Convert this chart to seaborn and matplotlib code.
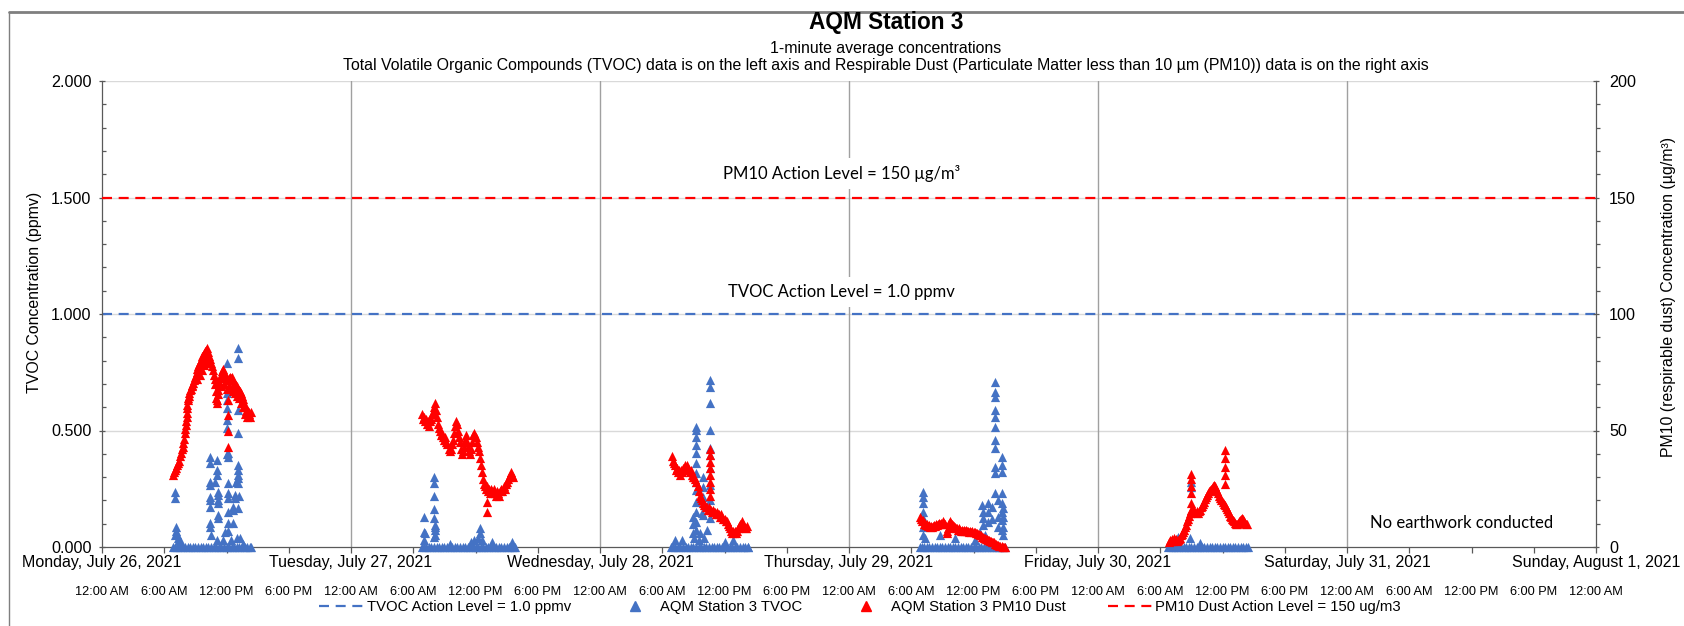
import numpy as np
import pandas as pd
import matplotlib
matplotlib.use("Agg")
import matplotlib.pyplot as plt
import seaborn as sns
from matplotlib.lines import Line2D
from matplotlib.ticker import MultipleLocator, FuncFormatter

# ------------------------------------------------------------------ data
day_labels = ["Monday, July 26, 2021", "Tuesday, July 27, 2021", "Wednesday, July 28, 2021",
              "Thursday, July 29, 2021", "Friday, July 30, 2021", "Saturday, July 31, 2021",
              "Sunday, August 1, 2021"]
time_labels = ["12:00 AM", "6:00 AM", "12:00 PM", "6:00 PM"]

tvoc_action = 1.0      # ppmv
pm10_action = 150      # ug/m3

# TVOC readings equal to zero (hour of day)
tvoc_zero_mon = [6.85, 7.0, 7.25, 7.5, 7.75, 8.0, 8.25, 8.5, 8.75, 9.0, 9.25, 9.5, 9.75, 10.0, 10.25,
                 10.5, 10.75, 11.0, 11.25, 11.5, 11.75, 12.0, 12.25, 12.5, 12.75, 13.0, 13.25, 13.5,
                 13.75, 14.0, 14.25, 14.35]
tvoc_zero_tue = [6.8, 7.0, 7.25, 7.5, 7.75, 8.0, 8.25, 8.5, 8.75, 9.0, 9.25, 9.5, 9.75, 10.0, 10.25,
                 10.5, 10.75, 11.0, 11.25, 11.5, 11.75, 12.0, 12.25, 12.5, 12.75, 13.0, 13.25, 13.5,
                 13.75, 14.0, 14.25, 14.5, 14.75, 15.0, 15.25, 15.5, 15.75, 15.8]
tvoc_zero_wed = [6.8, 7.0, 7.25, 7.5, 7.75, 8.0, 8.25, 8.5, 8.75, 9.0, 9.25, 9.5, 9.75, 10.0, 10.25,
                 10.5, 10.75, 11.0, 11.25, 11.5, 11.75, 12.0, 12.25, 12.5, 12.75, 13.0, 13.25, 13.5,
                 13.75, 14.0, 14.25, 14.3]
tvoc_zero_thu = [6.8, 7.0, 7.25, 7.5, 7.75, 8.0, 8.25, 8.5, 8.75, 9.0, 9.25, 9.5, 9.75, 10.0, 10.25,
                 10.5, 10.75, 11.0, 11.25, 11.5, 11.75, 12.0, 12.25, 12.5, 12.75, 13.0, 13.25, 13.5,
                 13.75, 14.0, 14.25, 14.5, 14.75, 15.0]
tvoc_zero_fri = [6.75, 7.0, 7.25, 7.5, 7.75, 8.0, 8.25, 8.5, 8.75, 9.0, 9.25, 9.5, 9.75, 10.0, 10.25,
                 10.5, 10.75, 11.0, 11.25, 11.5, 11.75, 12.0, 12.25, 12.5, 12.75, 13.0, 13.25, 13.5,
                 13.75, 14.0, 14.25, 14.5]

# TVOC non-zero readings (hour of day, ppmv)
tvoc_mon = [(7.0, 0.05), (7.04, 0.237), (7.04, 0.209), (7.1, 0.086), (7.15, 0.07), (7.2, 0.055),
            (7.3, 0.04), (7.45, 0.03), (7.6, 0.02),
            (10.41, 0.388), (10.41, 0.359), (10.41, 0.28), (10.41, 0.266), (10.41, 0.216),
            (10.41, 0.202), (10.41, 0.173), (10.41, 0.102), (10.41, 0.087), (10.55, 0.052),
            (10.9, 0.28), (11.05, 0.373), (11.05, 0.33), (11.05, 0.309), (11.05, 0.03),
            (11.2, 0.237), (11.2, 0.223), (11.2, 0.202), (11.2, 0.188), (11.2, 0.137), (11.2, 0.123),
            (11.7, 0.03), (11.85, 0.066),
            (12.01, 0.788), (12.01, 0.66), (12.01, 0.63), (12.01, 0.595), (12.01, 0.545),
            (12.01, 0.51), (12.01, 0.40), (12.18, 0.402), (12.18, 0.388), (12.18, 0.273),
            (12.18, 0.23), (12.18, 0.209), (12.18, 0.15), (12.18, 0.102), (12.18, 0.07),
            (12.4, 0.03), (12.66, 0.173), (12.66, 0.159), (12.66, 0.102), (12.82, 0.223),
            (12.82, 0.209), (12.9, 0.28), (12.98, 0.038),
            (13.14, 0.853), (13.14, 0.81), (13.14, 0.59), (13.14, 0.488), (13.14, 0.352),
            (13.14, 0.33), (13.14, 0.309), (13.14, 0.295), (13.14, 0.273), (13.14, 0.166),
            (13.25, 0.22), (13.3, 0.038), (13.62, 0.015)]
tvoc_tue = [(7.04, 0.13), (7.04, 0.066), (7.04, 0.03), (7.1, 0.06), (8.0, 0.302), (8.0, 0.273),
            (8.0, 0.219), (8.0, 0.163), (8.0, 0.123), (8.05, 0.094), (8.05, 0.073), (8.0, 0.044),
            (8.1, 0.087), (8.1, 0.052), (9.54, 0.015), (11.6, 0.02), (11.9, 0.03), (12.2, 0.04),
            (12.43, 0.08), (12.43, 0.059), (12.6, 0.03), (13.55, 0.02), (15.5, 0.02)]
tvoc_wed = [(7.23, 0.03), (7.87, 0.03), (9.0, 0.13), (9.0, 0.10), (9.0, 0.06), (9.1, 0.04),
            (9.25, 0.516), (9.25, 0.502), (9.25, 0.473), (9.25, 0.438), (9.25, 0.402), (9.25, 0.359),
            (9.25, 0.316), (9.25, 0.28), (9.25, 0.245), (9.25, 0.195), (9.25, 0.152), (9.25, 0.109),
            (9.25, 0.073), (9.5, 0.03), (9.64, 0.06), (9.8, 0.145), (9.96, 0.302), (9.96, 0.259),
            (9.96, 0.216), (9.96, 0.137), (10.0, 0.04), (10.28, 0.073),
            (10.6, 0.717), (10.6, 0.688), (10.6, 0.617), (10.6, 0.502), (10.6, 0.424), (10.6, 0.395),
            (10.6, 0.338), (10.6, 0.266), (10.6, 0.202), (10.6, 0.123), (12.05, 0.02), (12.85, 0.03)]
tvoc_thu = [(7.1, 0.237), (7.1, 0.216), (7.1, 0.187), (7.1, 0.152), (7.1, 0.123), (7.1, 0.087),
            (7.1, 0.05), (7.33, 0.04), (8.77, 0.05), (10.21, 0.04), (12.14, 0.03), (12.6, 0.06),
            (12.78, 0.18), (12.94, 0.152), (12.94, 0.123), (12.94, 0.094), (13.1, 0.05),
            (13.42, 0.187), (13.42, 0.152), (13.42, 0.109), (13.8, 0.17), (13.8, 0.12),
            (14.07, 0.71), (14.07, 0.667), (14.07, 0.645), (14.07, 0.588), (14.07, 0.559),
            (14.07, 0.516), (14.07, 0.459), (14.07, 0.424), (14.07, 0.345), (14.07, 0.316),
            (14.07, 0.23), (14.39, 0.202), (14.39, 0.13), (14.39, 0.087),
            (14.71, 0.388), (14.71, 0.352), (14.71, 0.323), (14.71, 0.23), (14.71, 0.187),
            (14.71, 0.152), (14.71, 0.115), (14.71, 0.073),
            (14.87, 0.166), (14.87, 0.13), (14.87, 0.087), (14.87, 0.05)]
tvoc_fri = [(7.74, 0.044), (8.87, 0.037), (8.93, 0.28), (8.93, 0.259), (9.83, 0.016)]

# PM10 readings (hour of day, ug/m3)
pm10_mon = [(6.8, 31), (6.9, 32), (7.0, 33), (7.1, 34), (7.2, 35), (7.3, 36), (7.4, 37), (7.52, 39),
            (7.6, 40.5), (7.7, 42), (7.77, 43), (7.84, 44.5), (7.92, 46.5), (8.0, 49), (8.04, 50.5),
            (8.08, 52.5), (8.12, 54), (8.16, 56), (8.19, 57.5), (8.21, 59.5), (8.24, 61), (8.26, 63),
            (8.3, 64), (8.37, 65), (8.42, 66), (8.48, 67.4), (8.56, 68), (8.64, 69), (8.72, 69.5),
            (8.8, 70.3), (8.88, 71.5), (8.96, 73), (9.04, 74), (9.12, 75.3), (9.2, 76.2), (9.3, 77.5),
            (9.38, 78.5), (9.45, 79.6), (9.52, 80.2), (9.6, 81), (9.68, 81.8), (9.77, 82.5),
            (9.85, 83.2), (9.93, 84), (10.01, 84.6), (10.09, 85.3),
            (9.2, 72), (9.4, 74), (9.6, 76), (9.8, 78), (10.0, 79), (10.2, 80),
            (10.2, 83.5), (10.3, 82), (10.4, 80.5), (10.5, 79), (10.6, 77.5), (10.7, 76), (10.8, 74),
            (10.85, 72), (10.9, 70), (10.95, 67), (11.0, 64), (11.05, 62), (11.1, 63), (11.15, 65.5),
            (11.2, 67.5), (11.25, 69.5), (11.3, 71), (11.4, 72.5), (11.5, 74), (11.6, 75.5),
            (11.69, 76.6), (11.8, 75), (11.9, 73.5), (12.0, 72.5), (12.1, 71.5), (12.2, 72.5),
            (12.3, 73), (12.4, 72.5), (12.5, 73), (12.6, 71.5), (12.7, 70.5), (12.8, 70), (12.9, 69.5),
            (13.0, 69), (13.1, 68), (13.2, 67.5), (13.3, 67), (13.4, 66), (13.5, 65), (13.6, 63.5),
            (13.7, 62), (13.8, 60), (13.9, 58.5), (14.0, 58), (14.1, 58.5), (14.2, 58), (14.33, 58),
            (11.5, 69), (11.8, 70), (12.0, 68), (12.2, 69), (12.4, 68), (12.6, 67), (12.8, 66),
            (13.0, 65), (13.2, 64), (13.4, 62), (13.6, 60), (13.8, 57), (14.0, 56), (14.2, 57),
            (14.3, 56), (12.11, 63), (12.11, 56.6), (12.11, 50), (12.11, 43)]
pm10_tue = [(6.8, 57), (6.9, 55), (7.0, 56), (7.1, 54), (7.2, 55), (7.3, 53), (7.4, 54), (7.5, 52),
            (7.6, 54), (7.7, 55), (7.8, 57), (7.9, 58), (8.0, 60), (8.1, 62), (8.2, 59), (8.3, 56),
            (8.4, 53), (8.5, 51), (8.6, 50), (8.7, 48), (8.8, 49), (8.9, 47), (9.0, 46), (9.1, 47),
            (9.2, 45), (9.3, 44), (9.4, 42), (9.5, 41), (9.6, 42), (9.7, 44), (9.8, 46), (9.9, 49),
            (10.0, 52), (10.1, 54), (10.2, 53), (10.3, 50), (10.4, 47), (10.5, 45), (10.6, 42),
            (10.7, 40), (10.8, 41), (10.9, 43), (11.0, 46), (11.1, 48), (11.2, 45), (11.3, 43),
            (11.4, 41), (11.5, 40), (11.6, 42), (11.7, 45), (11.8, 48), (11.9, 49), (12.0, 47),
            (12.1, 45), (12.2, 43), (12.3, 41), (12.4, 38), (12.5, 35), (12.6, 32), (12.7, 29),
            (12.8, 27), (12.9, 26), (13.0, 25), (13.1, 26), (13.2, 24), (13.3, 25), (13.4, 23),
            (13.5, 25), (13.6, 24), (13.7, 23), (13.8, 25), (13.9, 23), (14.0, 22), (14.1, 24),
            (14.2, 23), (14.3, 22), (14.4, 24), (14.5, 25), (14.6, 24), (14.7, 26), (14.8, 25),
            (14.9, 27), (15.0, 28), (15.1, 29), (15.2, 30), (15.3, 31), (15.4, 32), (15.5, 31),
            (15.6, 30), (13.14, 19.4), (13.14, 15.2)]
pm10_wed = [(6.9, 39), (7.0, 37), (7.1, 36), (7.2, 35), (7.3, 33), (7.4, 34), (7.5, 32), (7.6, 33),
            (7.7, 31), (7.8, 33), (7.9, 32), (8.0, 34), (8.1, 33), (8.2, 35), (8.3, 34), (8.4, 35),
            (8.5, 34), (8.6, 33), (8.7, 32), (8.8, 33), (8.9, 31), (9.0, 30), (9.1, 30), (9.2, 29),
            (9.3, 28), (9.4, 26), (9.5, 24), (9.6, 22), (9.7, 21), (9.8, 20), (9.9, 19), (10.0, 18),
            (10.1, 18), (10.2, 17), (10.3, 17), (10.4, 16), (10.5, 17), (10.6, 16), (10.7, 16),
            (10.8, 15), (10.9, 16), (11.0, 15), (11.1, 15), (11.2, 14), (11.3, 15), (11.4, 14),
            (11.5, 14), (11.6, 13), (11.7, 14), (11.8, 13), (11.9, 12), (12.0, 12), (12.1, 11),
            (12.2, 11), (12.3, 10), (12.4, 9), (12.5, 8), (12.6, 7), (12.7, 6), (12.8, 7), (12.9, 6),
            (13.0, 7), (13.1, 6), (13.2, 7), (13.3, 8), (13.4, 9), (13.5, 10), (13.6, 10), (13.7, 11),
            (13.8, 10), (13.9, 9), (14.0, 8), (14.1, 8), (14.2, 9),
            (10.6, 42), (10.6, 39.5), (10.6, 36.5), (10.6, 34), (10.6, 31), (10.6, 28), (10.6, 25),
            (10.6, 22)]
pm10_thu = [(6.8, 13), (6.9, 12), (7.0, 11), (7.1, 11.5), (7.2, 10), (7.3, 10.5), (7.4, 9.5),
            (7.5, 10), (7.6, 9), (7.7, 9.5), (7.8, 8.5), (7.9, 9), (8.0, 8.5), (8.1, 9), (8.2, 9.5),
            (8.3, 9), (8.4, 10), (8.5, 9.5), (8.6, 10), (8.7, 10.5), (8.8, 10), (8.9, 10.5), (9.0, 10),
            (9.1, 11), (9.2, 10.5), (9.3, 10), (9.4, 7), (9.45, 6), (9.5, 8), (9.6, 10.5), (9.7, 11),
            (9.8, 10.5), (9.9, 10), (10.0, 9.5), (10.1, 9), (10.2, 8.5), (10.3, 8), (10.4, 8),
            (10.5, 7.5), (10.6, 8), (10.7, 7.5), (10.8, 7), (10.9, 7.5), (11.0, 7), (11.1, 7.5),
            (11.2, 7), (11.3, 7.5), (11.4, 7), (11.5, 7), (11.6, 6.5), (11.7, 7), (11.8, 6.5),
            (11.9, 7), (12.0, 6.5), (12.1, 6.5), (12.2, 6), (12.3, 6), (12.4, 5.5), (12.5, 5.5),
            (12.6, 5), (12.7, 5), (12.8, 4.5), (12.9, 4.5), (13.0, 4), (13.1, 4), (13.2, 3.5),
            (13.3, 3.5), (13.4, 3), (13.5, 3), (13.6, 2.5), (13.7, 2.5), (13.8, 2), (13.9, 2),
            (14.0, 2), (14.1, 1.5), (14.2, 1.5), (14.3, 1), (14.4, 1), (14.5, 0.5), (14.6, 0.5),
            (14.7, 0.5), (14.8, 0), (14.9, 0), (15.0, 0)]
pm10_fri = [(6.8, 2), (6.9, 3), (7.0, 2.5), (7.1, 3.5), (7.2, 2.5), (7.3, 4), (7.4, 3), (7.5, 3.5),
            (7.6, 2.5), (7.7, 3), (7.8, 3.5), (7.9, 4), (8.0, 5), (8.1, 5.5), (8.2, 6.5), (8.3, 7.5),
            (8.4, 8.5), (8.5, 9.5), (8.6, 11), (8.7, 12), (8.8, 13.5), (8.9, 14.5), (9.0, 15.5),
            (9.1, 16), (9.2, 15), (9.3, 16), (9.4, 14.5), (9.5, 15.5), (9.6, 14.5), (9.7, 15.5),
            (9.8, 16), (9.9, 17), (10.0, 17.5), (10.1, 18.5), (10.2, 19.5), (10.3, 20.5), (10.4, 21.5),
            (10.5, 22.5), (10.6, 23), (10.7, 24), (10.8, 24.5), (10.9, 25), (11.0, 25.5), (11.1, 26),
            (11.2, 26.5), (11.3, 26), (11.4, 25), (11.5, 24), (11.6, 23), (11.7, 22), (11.8, 21),
            (11.9, 20), (12.0, 19.5), (12.1, 18.5), (12.2, 18), (12.3, 17), (12.4, 16.5), (12.5, 15.5),
            (12.6, 14.5), (12.7, 13.5), (12.8, 13), (12.9, 12), (13.0, 11.5), (13.1, 11), (13.2, 10.5),
            (13.3, 10), (13.4, 10), (13.5, 10.5), (13.6, 11), (13.7, 11.5), (13.8, 12), (13.9, 12.5),
            (14.0, 12), (14.1, 11), (14.2, 10.5), (14.3, 10), (14.4, 10),
            (8.93, 31.5), (8.93, 29), (8.93, 26), (8.93, 23), (8.93, 19), (8.93, 16),
            (12.24, 41.5), (12.24, 38), (12.24, 34.5), (12.24, 31), (12.24, 27)]

# ------------------------------------------------------------------ tables
tvoc_days = [(tvoc_zero_mon, tvoc_mon), (tvoc_zero_tue, tvoc_tue), (tvoc_zero_wed, tvoc_wed),
             (tvoc_zero_thu, tvoc_thu), (tvoc_zero_fri, tvoc_fri)]
pm10_days = [pm10_mon, pm10_tue, pm10_wed, pm10_thu, pm10_fri]

rows = []
for d, (zeros, spikes) in enumerate(tvoc_days):
    rows += [(d * 24 + h, 0.0) for h in zeros]
    rows += [(d * 24 + h, v) for h, v in spikes]
tvoc_df = pd.DataFrame(rows, columns=["hour", "tvoc"])

rows = []
for d, pts in enumerate(pm10_days):
    rows += [(d * 24 + h, v) for h, v in pts]
pm10_df = pd.DataFrame(rows, columns=["hour", "pm10"])

# ------------------------------------------------------------------ style
sns.set_theme(style="white")
plt.rcParams["font.family"] = ["Liberation Sans", "DejaVu Sans"]

BLUE = "#4472C4"
RED = "#FF0000"
AXC = "#595959"
W, H = 1684, 626
MS = 44

fig = plt.figure(figsize=(W / 100, H / 100), dpi=100)
ax = fig.add_axes([102 / W, 1 - 547 / H, 1494 / W, 466 / H])
ax2 = ax.twinx()

# grid
for y in [0.5, 1.0, 1.5, 2.0]:
    ax.axhline(y, color="#D9D9D9", lw=1.0, zorder=0.5)
for d in range(1, 6):
    ax.axvline(d * 24, color="#A0A0A0", lw=1.0, zorder=0.6)

# action levels
ax.axhline(tvoc_action, color=BLUE, lw=1.6, dashes=(4.5, 3), zorder=2)
ax2.axhline(pm10_action, color=RED, lw=1.6, dashes=(4.5, 3), zorder=2)

# data
sns.scatterplot(data=tvoc_df, x="hour", y="tvoc", ax=ax, marker="^", s=MS, color=BLUE,
                linewidth=0, legend=False, zorder=3)
sns.scatterplot(data=pm10_df, x="hour", y="pm10", ax=ax2, marker="^", s=MS, color=RED,
                linewidth=0, legend=False, zorder=3)
for c in ax.collections + ax2.collections:
    c.set_clip_on(False)

ax.set_xlim(0, 144)
ax.set_ylim(0, 2.0)
ax2.set_ylim(0, 200)
for a in (ax, ax2):
    a.set_xlabel("")
    a.set_ylabel("")
    a.grid(False)
    a.spines["top"].set_visible(False)
ax.spines["right"].set_visible(False)
ax2.spines["left"].set_visible(False)
ax2.spines["bottom"].set_visible(False)
for sp in [ax.spines["left"], ax.spines["bottom"], ax2.spines["right"]]:
    sp.set_color(AXC)
    sp.set_linewidth(0.9)

# y axes
ax.yaxis.set_major_locator(MultipleLocator(0.5))
ax.yaxis.set_minor_locator(MultipleLocator(0.1))
ax.yaxis.set_major_formatter(FuncFormatter(lambda v, p: f"{v:.3f}"))
ax2.yaxis.set_major_locator(MultipleLocator(50))
ax2.yaxis.set_minor_locator(MultipleLocator(10))
ax.tick_params(axis="y", which="major", direction="inout", length=5, width=0.9, color=AXC,
               labelsize=11.6, labelcolor="black", pad=5, left=True)
ax.tick_params(axis="y", which="minor", direction="in", length=3, width=0.9, color=AXC, left=True)
ax2.tick_params(axis="y", which="major", direction="inout", length=5, width=0.9, color=AXC,
                labelsize=11.6, labelcolor="black", pad=7, right=True)
ax2.tick_params(axis="y", which="minor", direction="out", length=3, width=0.9, color=AXC, right=True)

# x axis
xt = list(range(0, 145, 6))
ax.set_xticks(xt)
ax.set_xticklabels([time_labels[(t // 6) % 4] for t in xt])
ax.tick_params(axis="x", direction="out", length=4, width=0.9, color=AXC, labelsize=9.2,
               labelcolor="black", pad=24, bottom=True)
for d, name in enumerate(day_labels):
    ax.text(d * 24, -15 / 466, name, transform=ax.get_xaxis_transform(), ha="center",
            va="center", fontsize=11.5, color="black")

# annotations
box = dict(facecolor="white", edgecolor="none", pad=5)
ax2.text(71.3, 160.5, "PM10 Action Level = 150 µg/m³", ha="center", va="center", fontsize=12,
         family=["Lato", "DejaVu Sans"], color="black", bbox=box, zorder=6)
ax2.text(71.3, 109.6, "TVOC Action Level = 1.0 ppmv", ha="center", va="center", fontsize=12,
         family=["Lato", "DejaVu Sans"], color="black", bbox=box, zorder=6)
ax2.text(131.0, 10.3, "No earthwork conducted", ha="center", va="center", fontsize=12,
         family=["Lato", "DejaVu Sans"], color="black", zorder=6)

# titles and axis titles
cx = 886 / W
fig.text(cx, 1 - 22 / H, "AQM Station 3", ha="center", va="center", fontsize=16.3,
         fontweight="bold", color="black")
fig.text(cx, 1 - 48 / H, "1-minute average concentrations", ha="center", va="center",
         fontsize=11.4, color="black")
fig.text(cx, 1 - 65.5 / H,
         "Total Volatile Organic Compounds (TVOC) data is on the left axis and Respirable Dust "
         "(Particulate Matter less than 10 µm (PM10)) data is on the right axis",
         ha="center", va="center", fontsize=11.4, color="black")
fig.text(35 / W, 1 - 292 / H, "TVOC Concentration (ppmv)", rotation=90, ha="center",
         va="center", fontsize=11.4, color="black")
fig.text(1668 / W, 1 - 297 / H, "PM10 (respirable dust) Concentration (µg/m³)", rotation=90,
         ha="center", va="center", fontsize=11.4, color="black")

# legend
handles = [Line2D([], [], color=BLUE, lw=1.6, dashes=(4.5, 3)),
           Line2D([], [], color=BLUE, marker="^", markersize=6.5, lw=0),
           Line2D([], [], color=RED, marker="^", markersize=6.5, lw=0),
           Line2D([], [], color=RED, lw=1.6, dashes=(4.5, 3))]
labels = ["TVOC Action Level = 1.0 ppmv", "AQM Station 3 TVOC", "AQM Station 3 PM10 Dust",
          "PM10 Dust Action Level = 150 ug/m3"]
fig.legend(handles, labels, loc="center", bbox_to_anchor=(860 / W, 1 - 607 / H), ncol=4,
           frameon=False, fontsize=10.7, handlelength=3.0, handletextpad=0.2,
           columnspacing=2.8, labelcolor="black")

# chart-area border
fig.add_artist(Line2D([9 / W, 9 / W], [0, 1 - 12 / H], color="#7F7F7F", lw=1.0,
                      transform=fig.transFigure))
fig.add_artist(Line2D([9 / W, 1], [1 - 12 / H, 1 - 12 / H], color="#7F7F7F", lw=2.0,
                      transform=fig.transFigure))

fig.savefig("out.png", dpi=100)
